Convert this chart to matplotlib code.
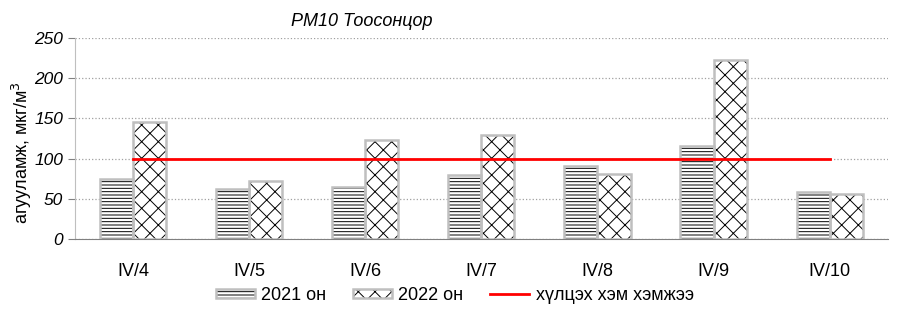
import matplotlib
matplotlib.use('Agg')
import matplotlib.pyplot as plt
from matplotlib.legend_handler import HandlerTuple
import numpy as np

plt.rcParams['font.family'] = ['Liberation Sans', 'DejaVu Sans']
plt.rcParams['hatch.linewidth'] = 0.7

categories = ['IV/4', 'IV/5', 'IV/6', 'IV/7', 'IV/8', 'IV/9', 'IV/10']
pm10_2021 = [75, 62, 65, 79, 91, 116, 58]
pm10_2022 = [146, 72, 123, 129, 81, 223, 56]
limit = [100, 100, 100, 100, 100, 100, 100]

EDGE = '#BFBFBF'

fig = plt.figure(figsize=(9.04, 3.3), dpi=100)
ax = fig.add_axes([0.083, 0.276, 0.899, 0.609])

x = np.arange(len(categories))
w = 0.285


def hatched_bars(xpos, vals, hatch):
    # black hatch underneath, grey outline on top
    h = ax.bar(xpos, vals, w, facecolor='white', edgecolor='black', linewidth=0,
               hatch=hatch, zorder=3)
    o = ax.bar(xpos, vals, w, facecolor='none', edgecolor=EDGE, linewidth=1.8, zorder=3.5)
    return h.patches[0], o.patches[0]


h21 = hatched_bars(x - w/2, pm10_2021, '-----')
h22 = hatched_bars(x + w/2, pm10_2022, 'xx')
line, = ax.plot(x, limit, color='#FF0000', lw=2, zorder=4)

ax.set_xlim(-0.5, len(categories) - 0.5)
ax.set_ylim(0, 250)
ax.set_yticks([0, 50, 100, 150, 200, 250])
ax.yaxis.grid(True, linestyle=':', color='#A0A0A0', linewidth=0.9, zorder=0)
ax.set_axisbelow(True)

ax.set_xticks(x)
ax.set_xticklabels(categories, fontsize=13)
ax.tick_params(axis='x', length=0, pad=17)
ax.tick_params(axis='y', length=5, color='#808080', labelsize=12.5)
for t in ax.get_yticklabels():
    t.set_fontstyle('italic')

for s in ['top', 'right']:
    ax.spines[s].set_visible(False)
ax.spines['left'].set_color('#BFBFBF')
ax.spines['bottom'].set_color('#808080')

ax.set_ylabel('агууламж, мкг/м$^3$', fontsize=13)
ax.yaxis.set_label_coords(-0.05, 0.43)
fig.text(0.40, 0.935, 'PM10 Тоосонцор', fontsize=13, style='italic', ha='center', va='center')

fig.legend([h21, h22, line], ['2021 он', '2022 он', 'хүлцэх хэм хэмжээ'],
           handler_map={tuple: HandlerTuple(ndivide=1, pad=0)},
           loc='lower center', bbox_to_anchor=(0.503, 0.03), ncol=3, frameon=False,
           fontsize=13, handlelength=2.15, handleheight=0.4, columnspacing=1.5, handletextpad=0.35)

fig.savefig('out.png', dpi=100)
